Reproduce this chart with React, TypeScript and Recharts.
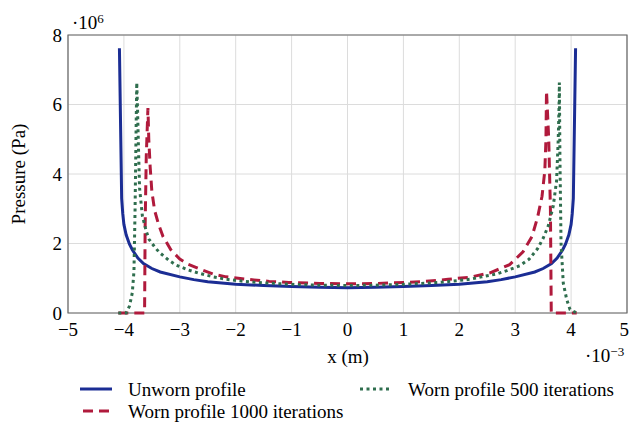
import React from "react";
import {
  LineChart,
  Line,
  XAxis,
  YAxis,
  CartesianGrid,
  ReferenceArea,
} from "recharts";

// x in 1e-3 m, pressure in 1e6 Pa
const unwornX = [
  -4.08, -4.04, -4.02, -4.0, -3.96, -3.9, -3.85, -3.75, -3.65, -3.5, -3.35,
  -3.0, -2.75, -2.5, -2.0, -1.5, -1.0, -0.5, 0, 0.5, 1.0, 1.5, 2.0, 2.5, 2.75,
  3.0, 3.35, 3.5, 3.65, 3.75, 3.85, 3.9, 3.96, 4.0, 4.02, 4.04, 4.08,
];
const unwornP = [
  7.62, 3.3, 2.85, 2.55, 2.25, 1.98, 1.82, 1.58, 1.42, 1.28, 1.18, 1.04, 0.96,
  0.9, 0.83, 0.79, 0.76, 0.74, 0.73, 0.74, 0.76, 0.79, 0.83, 0.9, 0.96, 1.04,
  1.18, 1.28, 1.42, 1.58, 1.82, 1.98, 2.25, 2.55, 2.85, 3.3, 7.62,
];

const worn500X = [
  -4.1, -3.96, -3.9, -3.85, -3.82, -3.8, -3.78, -3.77, -3.755, -3.74, -3.72,
  -3.67, -3.6, -3.55, -3.45, -3.37, -3.2, -3.07, -2.85, -2.65, -2.4, -2.17,
  -1.9, -1.64, -1.3, -0.95, -0.5, 0, 0.5, 0.95, 1.3, 1.64, 1.9, 2.19, 2.4,
  2.66, 2.85, 3.08, 3.25, 3.4, 3.5, 3.59, 3.68, 3.74, 3.77, 3.785, 3.79, 3.8,
  3.82, 3.86, 3.92, 3.98, 4.1,
];
const worn500P = [
  0, 0, 0.2, 0.58, 1.2, 3.0, 5.5, 6.63, 5.8, 4.8, 3.6, 2.8, 2.35, 2.12, 1.9,
  1.75, 1.52, 1.38, 1.24, 1.14, 1.04, 0.97, 0.92, 0.88, 0.85, 0.82, 0.8, 0.79,
  0.8, 0.82, 0.85, 0.88, 0.92, 0.97, 1.04, 1.12, 1.22, 1.36, 1.55, 1.85, 2.15,
  2.5, 3.07, 3.8, 5.0, 6.0, 6.63, 4.5, 2.0, 0.86, 0.4, 0.1, 0,
];

const worn1000X = [
  -4.1, -3.63, -3.62, -3.6, -3.57, -3.555, -3.53, -3.5, -3.45, -3.38, -3.3,
  -3.16, -3.0, -2.85, -2.6, -2.4, -2.17, -1.8, -1.4, -1.05, -0.5, 0, 0.5,
  1.05, 1.4, 1.8, 2.19, 2.54, 2.9, 3.14, 3.3, 3.4, 3.48, 3.53, 3.55, 3.56,
  3.6, 3.63, 3.64, 3.645, 4.1,
];
const worn1000P = [
  0, 0, 2.5, 4.5, 5.9, 5.0, 4.2, 3.5, 2.95, 2.55, 2.2, 1.82, 1.55, 1.4, 1.24,
  1.12, 1.04, 0.97, 0.91, 0.88, 0.85, 0.84, 0.85, 0.88, 0.91, 0.97, 1.03, 1.15,
  1.39, 1.76, 2.2, 2.75, 3.36, 4.1, 5.0, 6.39, 5.0, 3.0, 1.0, 0, 0,
];

const xTicks = [-5, -4, -3, -2, -1, 0, 1, 2, 3, 4, 5];
const yTicks = [0, 2, 4, 6, 8];

const BLUE = "#1b2d94";
const RED = "#b01a3c";
const GREEN = "#2f6e4e";
const FONT = "'Liberation Serif', 'DejaVu Serif', serif";

const toRows = (xs: number[], ps: number[]) =>
  xs.map((x, i) => ({ x, p: ps[i] }));

const fmt = (v: number) => String(v).replace("-", "\u2212");

export default function App() {
  const tick = { fontSize: 19, fontFamily: FONT, fill: "#000" };
  const text: React.CSSProperties = {
    position: "absolute",
    fontFamily: FONT,
    fontSize: 19,
    color: "#000",
    whiteSpace: "nowrap",
    lineHeight: "19px",
  };

  return (
    <div style={{ position: "absolute", left: 0, top: 0, width: 629, height: 423, background: "#fff" }}>
      <LineChart
        width={629}
        height={423}
        margin={{ top: 35, right: 2, bottom: 80, left: 0 }}
      >
        <CartesianGrid stroke="#dcdcdc" strokeWidth={1} />
        <XAxis
          dataKey="x"
          type="number"
          domain={[-5, 5]}
          ticks={xTicks}
          allowDataOverflow
          tick={tick}
          tickFormatter={fmt}
          tickLine={false}
          axisLine={false}
          tickMargin={4}
          height={30}
        />
        <YAxis
          type="number"
          domain={[0, 8]}
          ticks={yTicks}
          tick={tick}
          tickLine={false}
          axisLine={false}
          tickSize={6}
          tickMargin={0}
          width={68}
        />
        <ReferenceArea
          x1={-5}
          x2={5}
          y1={0}
          y2={8}
          fill="none"
          stroke="#666"
          strokeWidth={1.2}
          ifOverflow="visible"
        />
        <Line
          data={toRows(unwornX, unwornP)}
          dataKey="p"
          type="linear"
          stroke={BLUE}
          strokeWidth={3}
          dot={false}
          isAnimationActive={false}
        />
        <Line
          data={toRows(worn1000X, worn1000P)}
          dataKey="p"
          type="linear"
          stroke={RED}
          strokeWidth={3}
          strokeDasharray="10 6"
          dot={false}
          isAnimationActive={false}
        />
        <Line
          data={toRows(worn500X, worn500P)}
          dataKey="p"
          type="linear"
          stroke={GREEN}
          strokeWidth={3}
          strokeDasharray="3 3.5"
          dot={false}
          isAnimationActive={false}
        />
      </LineChart>

      {/* axis titles and scale factors */}
      <div style={{ ...text, left: 72, top: 9 }}>
        ·10<sup style={{ fontSize: 13, verticalAlign: "6px" }}>6</sup>
      </div>
      <div style={{ ...text, left: 585, top: 342 }}>
        ·10<sup style={{ fontSize: 13, verticalAlign: "6px" }}>−3</sup>
      </div>
      <div style={{ ...text, left: 348, top: 347, transform: "translateX(-50%)" }}>
        x (m)
      </div>
      <div
        style={{
          ...text,
          left: 18,
          top: 174,
          transform: "translate(-50%, -50%) rotate(-90deg)",
        }}
      >
        Pressure (Pa)
      </div>

      {/* legend */}
      <svg style={{ position: "absolute", left: 0, top: 375 }} width={629} height={48}>
        <line x1={80} x2={112} y1={14} y2={14} stroke={BLUE} strokeWidth={3} />
        <line x1={80} x2={112} y1={36} y2={36} stroke={RED} strokeWidth={3} strokeDasharray="10 6" strokeDashoffset={-3} />
        <line x1={360} x2={392} y1={14} y2={14} stroke={GREEN} strokeWidth={3} strokeDasharray="3 3.5" />
      </svg>
      <div style={{ ...text, left: 128, top: 380 }}>Unworn profile</div>
      <div style={{ ...text, left: 128, top: 402 }}>Worn profile 1000 iterations</div>
      <div style={{ ...text, left: 408, top: 380 }}>Worn profile 500 iterations</div>
    </div>
  );
}
